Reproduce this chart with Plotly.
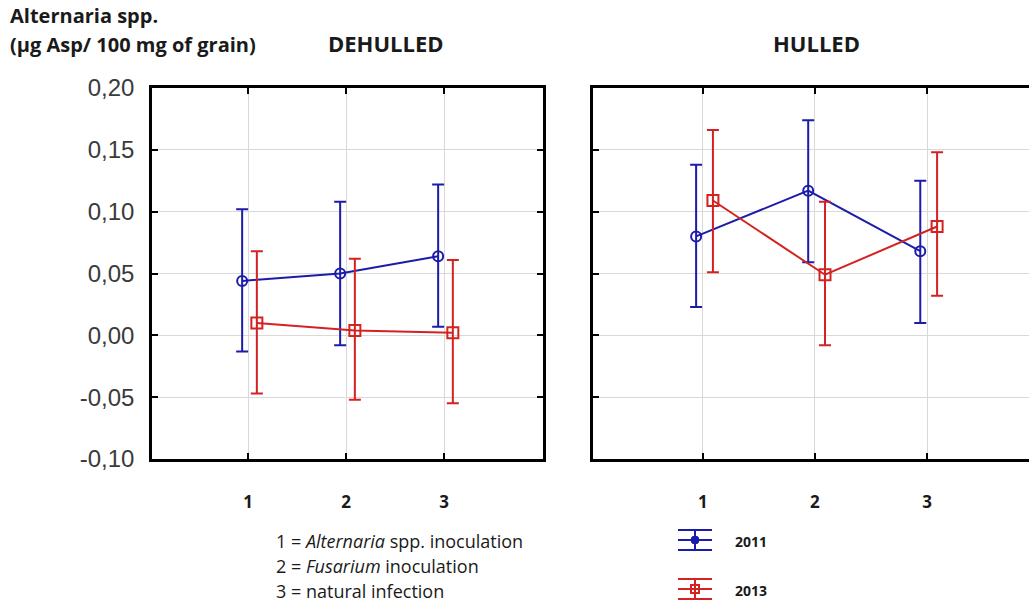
import plotly.graph_objects as go

# ---------------- data ----------------
categories = [1, 2, 3]
tick_labels = ["1", "2", "3"]
years = ["2011", "2013"]
y_tick_values = [-0.10, -0.05, 0.00, 0.05, 0.10, 0.15, 0.20]

dehulled_2011_mean = [0.044, 0.050, 0.064]
dehulled_2011_upper = [0.102, 0.108, 0.122]
dehulled_2011_lower = [-0.013, -0.008, 0.007]

dehulled_2013_mean = [0.010, 0.004, 0.002]
dehulled_2013_upper = [0.068, 0.062, 0.061]
dehulled_2013_lower = [-0.047, -0.052, -0.055]

hulled_2011_mean = [0.080, 0.117, 0.068]
hulled_2011_upper = [0.138, 0.174, 0.125]
hulled_2011_lower = [0.023, 0.059, 0.010]

hulled_2013_mean = [0.109, 0.049, 0.088]
hulled_2013_upper = [0.166, 0.108, 0.148]
hulled_2013_lower = [0.051, -0.008, 0.032]

# ---------------- style ----------------
W, H = 1029, 605
BLUE = "#1c1caa"
RED = "#d42222"
GRID = "#d9d9d9"
OFFSET = {"2011": -0.06, "2013": 0.09}
TXT_FONT = "Open Sans"
TXT_COLOR = "#1a1a1a"


def px(x):
    return x / W


def py(y):
    return 1 - y / H


fig = go.Figure()


def add_series(mean, upper, lower, year, xa, ya):
    color = BLUE if year == "2011" else RED
    symbol = "circle-open" if year == "2011" else "square-open"
    size = 10 if year == "2011" else 11
    xs = [c + OFFSET[year] for c in categories]
    fig.add_trace(go.Scatter(
        x=xs, y=mean, mode="lines+markers", name=year,
        xaxis=xa, yaxis=ya, showlegend=False,
        line=dict(color=color, width=2),
        marker=dict(symbol=symbol, size=size, color=color,
                    line=dict(width=2, color=color)),
        error_y=dict(type="data", symmetric=False,
                     array=[u - m for u, m in zip(upper, mean)],
                     arrayminus=[m - l for m, l in zip(mean, lower)],
                     color=color, thickness=2, width=6),
    ))


add_series(dehulled_2011_mean, dehulled_2011_upper, dehulled_2011_lower, "2011", "x", "y")
add_series(dehulled_2013_mean, dehulled_2013_upper, dehulled_2013_lower, "2013", "x", "y")
add_series(hulled_2011_mean, hulled_2011_upper, hulled_2011_lower, "2011", "x2", "y2")
add_series(hulled_2013_mean, hulled_2013_upper, hulled_2013_lower, "2013", "x2", "y2")

common_x = dict(
    tickvals=categories,
    ticktext=[f"<b>{t}</b>" for t in tick_labels],
    tickfont=dict(family=TXT_FONT, size=17, color=TXT_COLOR),
    showgrid=True, gridcolor=GRID, gridwidth=1,
    showline=True, linecolor="black", linewidth=2.5,
    ticks="inside", ticklen=6, tickwidth=2, tickcolor="black",
    mirror="ticks", zeroline=False, ticklabelstandoff=26, automargin=False,
)
common_y = dict(
    range=[-0.10, 0.20],
    tickvals=y_tick_values,
    ticktext=[f"{v:.2f}".replace(".", ",") for v in y_tick_values],
    showgrid=True, gridcolor=GRID, gridwidth=1,
    showline=True, linecolor="black", linewidth=2.5,
    ticks="inside", ticklen=6, tickwidth=2, tickcolor="black",
    zeroline=False, automargin=False,
)

fig.update_layout(
    width=W, height=H,
    margin=dict(l=0, r=0, t=0, b=0, autoexpand=False),
    paper_bgcolor="white", plot_bgcolor="white",
    showlegend=False,
    xaxis=dict(domain=[px(152), px(543)], range=[0.02, 4.01], anchor="y", **common_x),
    yaxis=dict(domain=[py(459), py(88)], anchor="x", mirror="ticks",
               tickfont=dict(family="Liberation Sans", size=24, color="#3a3a3a"),
               ticklabelstandoff=10, **common_y),
    xaxis2=dict(domain=[px(593), 1.0], range=[0.02, 3.91], anchor="y2", **common_x),
    yaxis2=dict(domain=[py(459), py(88)], anchor="x2", mirror=False,
                showticklabels=False, **common_y),
)

# titles
ann = []
ann.append(dict(text="<b>Alternaria spp.</b>", x=px(8), y=py(16), xanchor="left", yanchor="middle",
                font=dict(family=TXT_FONT, size=20, color=TXT_COLOR)))
ann.append(dict(text="<b>(µg Asp/ 100 mg of grain)</b>", x=px(8), y=py(45), xanchor="left", yanchor="middle",
                font=dict(family=TXT_FONT, size=20, color=TXT_COLOR)))
ann.append(dict(text="<b>DEHULLED</b>", x=px(386), y=py(43), xanchor="center", yanchor="middle",
                font=dict(family=TXT_FONT, size=22, color=TXT_COLOR)))
ann.append(dict(text="<b>HULLED</b>", x=px(816), y=py(43), xanchor="center", yanchor="middle",
                font=dict(family=TXT_FONT, size=22, color=TXT_COLOR)))

# category key
key_lines = [
    "1 = <i>Alternaria</i> spp. inoculation",
    "2 = <i>Fusarium</i> inoculation",
    "3 = natural infection",
]
for i, t in enumerate(key_lines):
    ann.append(dict(text=t, x=px(274), y=py(541 + 25 * i), xanchor="left", yanchor="middle",
                    font=dict(family=TXT_FONT, size=18, color=TXT_COLOR)))

# legend (error-bar glyphs)
shapes = []
for year, cy in zip(years, [540, 589]):
    color = BLUE if year == "2011" else RED
    x0, x1, xc = 678, 712, 695
    for yy in (cy - 10, cy, cy + 10):
        shapes.append(dict(type="line", xref="paper", yref="paper",
                           x0=px(x0), x1=px(x1), y0=py(yy), y1=py(yy),
                           line=dict(color=color, width=2)))
    shapes.append(dict(type="line", xref="paper", yref="paper",
                       x0=px(xc), x1=px(xc), y0=py(cy - 10), y1=py(cy + 10),
                       line=dict(color=color, width=2)))
    if year == "2011":
        shapes.append(dict(type="circle", xref="paper", yref="paper",
                           x0=px(xc - 4), x1=px(xc + 4), y0=py(cy - 4), y1=py(cy + 4),
                           fillcolor=color, line=dict(color=color, width=1)))
    else:
        shapes.append(dict(type="rect", xref="paper", yref="paper",
                           x0=px(xc - 4), x1=px(xc + 4), y0=py(cy - 4), y1=py(cy + 4),
                           fillcolor="rgba(0,0,0,0)", line=dict(color=color, width=2)))
    ann.append(dict(text=f"<b>{year}</b>", x=px(733), y=py(cy + 1), xanchor="left", yanchor="middle",
                    font=dict(family=TXT_FONT, size=14, color=TXT_COLOR)))

for a in ann:
    a.update(xref="paper", yref="paper", showarrow=False)
fig.update_layout(annotations=ann, shapes=shapes)

fig.write_html("out.html")
